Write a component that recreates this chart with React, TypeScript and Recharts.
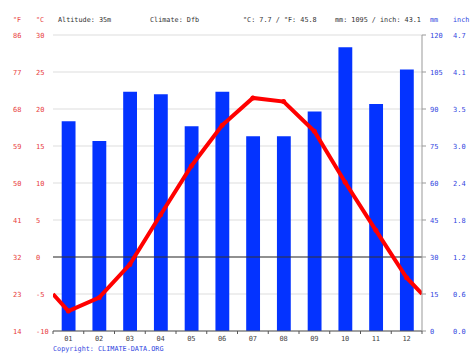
import { ComposedChart, Bar, Line, XAxis, YAxis, CartesianGrid, ReferenceLine } from 'recharts';

const months = [1, 2, 3, 4, 5, 6, 7, 8, 9, 10, 11, 12];
const precipMm = [85, 77, 97, 96, 83, 97, 79, 79, 89, 115, 92, 106];
const tempC = [-7.3, -5.5, -1.0, 5.7, 12.3, 17.8, 21.5, 21.0, 17.0, 10.1, 3.6, -2.8];
// line runs on to the plot edges, values read at the edges
const edgeStartC = -5.0;
const edgeEndC = -5.0;

const tempTicks = [-10, -5, 0, 5, 10, 15, 20, 25, 30];
const fahrenheitLabels = ['14', '23', '32', '41', '50', '59', '68', '77', '86'];
const mmTicks = [0, 15, 30, 45, 60, 75, 90, 105, 120];
const inchLabels = ['0.0', '0.6', '1.2', '1.8', '2.4', '3.0', '3.5', '4.1', '4.7'];

const rows = months.map((m, i) => ({ m, mm: precipMm[i], t: tempC[i] }));
const lineRows = [{ m: 0.5, t: edgeStartC }, ...rows, { m: 12.5, t: edgeEndC }];

const FONT = '"DejaVu Sans Mono", monospace';
const RED = '#e84040';
const BLUE = '#3347e0';
const BAND = 369 / 12;
const AXIS_Y = 331;

const LeftTick = (props: any) => {
  const { y, payload } = props;
  const i = tempTicks.indexOf(payload.value);
  return (
    <g fontFamily={FONT} fontSize={7} fill={RED}>
      <text x={13} y={y} dy={2.5}>{fahrenheitLabels[i]}</text>
      <text x={36} y={y} dy={2.5}>{payload.value}</text>
    </g>
  );
};

const RightTick = (props: any) => {
  const { y, payload } = props;
  const i = mmTicks.indexOf(payload.value);
  return (
    <g fontFamily={FONT} fontSize={7} fill={BLUE}>
      <text x={430} y={y} dy={2.5}>{payload.value}</text>
      <text x={453} y={y} dy={2.5}>{inchLabels[i]}</text>
    </g>
  );
};

const MonthTick = (props: any) => {
  const { x, payload } = props;
  return (
    <g>
      <line x1={x - BAND / 2} x2={x - BAND / 2} y1={AXIS_Y} y2={AXIS_Y + 3} stroke="#555" />
      {payload.value === 12 && <line x1={x + BAND / 2} x2={x + BAND / 2} y1={AXIS_Y} y2={AXIS_Y + 3} stroke="#555" />}
      <text x={x} y={AXIS_Y + 10} textAnchor="middle" fontFamily={FONT} fontSize={7} fill="#444">
        {String(payload.value).padStart(2, '0')}
      </text>
    </g>
  );
};

const Dot = (props: any) => {
  const { cx, cy, payload } = props;
  if (payload.m % 1 !== 0) return null;
  return <circle key={payload.m} cx={cx} cy={cy} r={2.5} fill="#f00" />;
};

const txt = (x: number, y: number, s: string, color = '#333') => (
  <div style={{ position: 'absolute', left: x, top: y, fontFamily: FONT, fontSize: 6.8, color, whiteSpace: 'pre', lineHeight: '8px' }}>{s}</div>
);

export default function App() {
  return (
    <div style={{ position: 'absolute', left: 0, top: 0, width: 474, height: 355, background: '#fff' }}>
      <ComposedChart width={474} height={355} data={rows} margin={{ top: 35, right: 0, bottom: 0, left: 0 }}>
        <CartesianGrid horizontal vertical={false} stroke="#dddddd" />
        <XAxis
          dataKey="m"
          type="number"
          domain={[0.5, 12.5]}
          ticks={months}
          height={24}
          tickLine={false}
          axisLine={{ stroke: '#555' }}
          tick={<MonthTick />}
          interval={0}
          allowDataOverflow
        />
        <YAxis
          domain={[-10, 30]}
          ticks={tempTicks}
          width={53}
          axisLine={false}
          tickLine={false}
          tick={<LeftTick />}
          interval={0}
        />
        <YAxis
          yAxisId="mm"
          orientation="right"
          domain={[0, 120]}
          ticks={mmTicks}
          width={52}
          axisLine={{ stroke: '#999' }}
          tickLine={{ stroke: '#999' }}
          tickSize={4}
          tick={<RightTick />}
          interval={0}
        />
        <ReferenceLine y={0} stroke="#333" />
        <Bar dataKey="mm" yAxisId="mm" fill="#0433ff" barSize={16} isAnimationActive={false} />
        <Line
          data={lineRows}
          dataKey="t"
          type="linear"
          stroke="#f00"
          strokeWidth={4}
          dot={<Dot />}
          activeDot={false}
          isAnimationActive={false}
        />
      </ComposedChart>
      {txt(13, 16, '°F', RED)}
      {txt(36, 16, '°C', RED)}
      {txt(58, 16, 'Altitude: 35m')}
      {txt(150, 16, 'Climate: Dfb')}
      {txt(243, 16, '°C: 7.7 / °F: 45.8')}
      {txt(335, 16, 'mm: 1095 / inch: 43.1')}
      {txt(430, 16, 'mm', BLUE)}
      {txt(453, 16, 'inch', BLUE)}
      {txt(53, 345, 'Copyright: CLIMATE-DATA.ORG', BLUE)}
    </div>
  );
}
